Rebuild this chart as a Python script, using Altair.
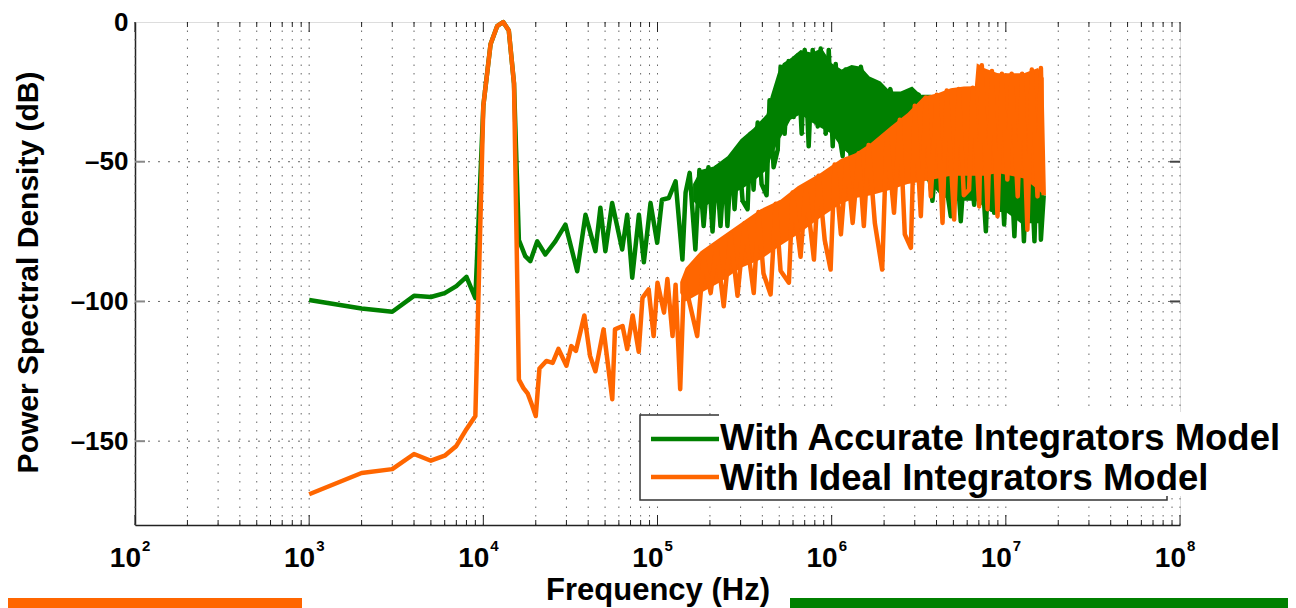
import altair as alt
import pandas as pd

FONT = "Liberation Sans"
GREEN = "#008000"
ORANGE = "#FF6600"

# ---------------- data ----------------
# (frequency Hz, PSD dB) for the "accurate integrators" trace
green_line = [
    (1000, -99.5), (2000, -102.5), (3000, -103.7), (4000, -98), (5000, -98.4), (6000, -97),
    (7000, -94.5), (8000, -91.2), (9000, -98.8), (10000, -30), (11000, -8), (12000, -1.5),
    (13000, 0), (14000, -3), (15000, -22), (16000, -78), (17400, -83.8), (18600, -85.6),
    (20400, -78.5), (22700, -83.2), (25900, -78.5), (29600, -72.5), (34600, -89.2),
    (38600, -69), (44000, -82), (47000, -66.5), (50200, -82), (54900, -64.8), (62700, -81.4),
    (67000, -69), (71600, -91.5), (78200, -69), (83500, -86), (91200, -64.8), (99600, -79),
    (106000, -63.6), (116000, -63), (127000, -57), (139000, -85), (145000, -61),
    (153000, -54), (165000, -81.4), (174000, -53), (184000, -73), (196000, -52), (207000, -75),
    (218000, -52), (230000, -73), (243000, -50), (252000, -73), (266000, -48), (277000, -67),
    (292000, -45), (308000, -64), (329000, -67), (342000, -40), (356000, -60), (376000, -36),
    (396000, -58), (423000, -62), (440000, -28), (464000, -52), (490000, -45.7), (509000, -16),
    (537000, -40), (566000, -14), (605000, -34), (638000, -12), (673000, -40), (700000, -10),
    (738000, -44.5), (778000, -10), (832000, -37.4), (865000, -9.5), (925000, -40),
    (962000, -10), (1014000, -44.5), (1055000, -15), (1096000, -38.6), (1156000, -48),
    (1202000, -17), (1285000, -48), (1470000, -16), (1790000, -45), (2170000, -24),
    (2660000, -48), (3160000, -26), (3790000, -64), (4120000, -40), (4830000, -69.5),
    (5160000, -45), (5510000, -71.3), (5970000, -40), (6580000, -65.4), (7090000, -40),
    (7680000, -74.9), (8100000, -35), (8570000, -68.3), (9120000, -35), (9780000, -72.5),
    (10400000, -35), (11200000, -76.7), (11900000, -35), (12700000, -78.5), (13600000, -35),
    (14600000, -78.5), (15300000, -35), (15900000, -77.9), (16500000, -62),
]
# (frequency, upper edge, lower edge) of the densely filled part of the green trace
green_band = [
    (160000, -58, -64), (177000, -53, -67), (210000, -51.7, -64), (252000, -48, -62),
    (300000, -42, -60), (356000, -38, -57), (423000, -33, -53), (446000, -26.7, -49),
    (490000, -18.3, -43), (525000, -14.8, -40), (581000, -13, -35), (663000, -10, -33),
    (771000, -11, -36), (876000, -9.4, -38), (1000000, -14.8, -40), (1140000, -17, -45),
    (1300000, -15.4, -48), (1470000, -16, -48), (1650000, -19.5, -48), (1910000, -21.3, -48),
    (2170000, -24.9, -50), (2490000, -24.9, -50), (2900000, -23.1, -52), (3250000, -26, -55),
    (3700000, -26, -58), (4230000, -27, -62), (4830000, -30, -64), (6730000, -30, -64),
    (8200000, -30, -68), (10000000, -30, -68), (12200000, -30, -72), (16500000, -30, -72),
]
# (frequency Hz, PSD dB) for the "ideal integrators" trace
orange_line = [
    (1000, -169), (2000, -161.4), (3000, -160), (4000, -154.6), (5000, -157), (6000, -155.2),
    (7000, -151.7), (8000, -145.7), (9000, -141), (10000, -30), (11000, -8), (12000, -1.5),
    (13000, 0), (14000, -3), (15000, -22), (16000, -128), (17000, -131), (18000, -133),
    (19000, -137), (20000, -141), (21000, -124), (23000, -121.3), (25000, -122),
    (27000, -117), (30000, -123), (32000, -116), (34000, -117.7), (38000, -105),
    (41000, -119.5), (44000, -125), (49000, -110), (55000, -135), (57000, -110),
    (63000, -108.8), (67000, -117), (72000, -105), (78000, -118), (82000, -98.7),
    (89000, -95.7), (95000, -112.4), (100000, -93.3), (109000, -104), (114000, -92),
    (122000, -112.4), (127000, -94), (135000, -131.4), (142000, -92), (169000, -112.4),
    (184000, -84), (202000, -97), (218000, -80), (240000, -101.7), (263000, -76),
    (288000, -98), (316000, -72), (357000, -97), (380000, -68), (406000, -90),
    (446000, -97.5), (477000, -65), (509000, -89), (568000, -93.3), (597000, -61),
    (663000, -84), (710000, -59), (791000, -85), (841000, -55), (912000, -78),
    (986000, -88.6), (1040000, -51), (1130000, -76), (1220000, -49), (1320000, -71.9),
    (1430000, -47), (1530000, -73), (1630000, -44), (1770000, -72), (1950000, -88.6),
    (2070000, -40), (2280000, -68.3), (2460000, -35), (2630000, -76), (2850000, -80.8),
    (3000000, -30), (3250000, -69.5), (3470000, -27), (3710000, -62.4), (4010000, -26),
    (4330000, -71.9), (4580000, -24.5), (5050000, -70.7), (5370000, -24), (5740000, -62),
    (6150000, -60), (6460000, -23.5), (7030000, -66), (7280000, -15.5), (7850000, -67),
    (8320000, -17.5), (8960000, -69.5), (9490000, -18.5), (10200000, -56.4),
    (10800000, -18.5), (11700000, -62.4), (12400000, -18.5), (13300000, -74.3),
    (14100000, -17), (15200000, -62.4), (15900000, -16.5), (16500000, -62),
]
orange_band = [
    (135000, -93, -97), (145000, -88, -100), (177000, -82, -97), (230000, -77, -93),
    (300000, -72, -88), (391000, -67, -85), (509000, -63.6, -80), (638000, -58.8, -76),
    (864000, -54, -70), (1130000, -49, -65), (1370000, -47, -63), (1680000, -43.3, -62),
    (2180000, -37.4, -60), (2730000, -32.6, -58), (3380000, -26.7, -57), (4070000, -25.5, -56),
    (4830000, -23.7, -55), (5740000, -23.1, -55), (6640000, -23, -55), (6810000, -14.8, -55),
    (7480000, -16.5, -55), (9000000, -18.3, -54), (10700000, -18.3, -55),
    (12700000, -18.3, -56), (15300000, -16.5, -60), (16500000, -20, -62),
]

series_names = ["With Accurate Integrators Model", "With Ideal Integrators Model"]
decades = [1e2, 1e3, 1e4, 1e5, 1e6, 1e7, 1e8]
decade_exponents = ["2", "3", "4", "5", "6", "7", "8"]
minor_ticks = [m * 10 ** k for k in range(2, 8) for m in range(2, 10)]
y_ticks = [0, -50, -100, -150]
y_grid = [-50, -100, -150]

# ---------------- tables ----------------
g_df = pd.DataFrame(green_line, columns=["f", "db"])
gb_df = pd.DataFrame(green_band, columns=["f", "db", "lo"])
o_df = pd.DataFrame(orange_line, columns=["f", "db"])
ob_df = pd.DataFrame(orange_band, columns=["f", "db", "lo"])
dec_df = pd.DataFrame({"f": decades, "e": decade_exponents})
minor_df = pd.DataFrame({"f": minor_ticks})
vgrid_df = pd.DataFrame({"f": decades + minor_ticks})
hgrid_df = pd.DataFrame({"db": y_grid})
one = pd.DataFrame({"k": [0]})

W, H = 1045, 503
xs = alt.Scale(type="log", domain=[100, 1e8], nice=False)
ys = alt.Scale(domain=[-180, 0], nice=False)

x_axis = alt.Axis(
    labels=False, ticks=False, grid=False, domain=True, domainColor="#222", domainWidth=1.5,
    title="Frequency (Hz)", titleFont=FONT, titleFontSize=31, titleFontWeight="bold",
    titleColor="black", titleX=W / 2, titleY=74, titleAlign="center",
    titleBaseline="alphabetic")
y_axis = alt.Axis(
    values=y_ticks, labelExpr="datum.value == 0 ? '0' : '\u2013' + abs(datum.value)",
    ticks=False, grid=False, domain=True, domainColor="#222", domainWidth=1.5,
    labelFont=FONT, labelFontSize=26, labelFontWeight="bold", labelColor="black",
    labelPadding=7, labelOverlap=False,
    title="Power Spectral Density (dB)", titleFont=FONT, titleFontSize=30,
    titleFontWeight="bold", titleColor="black", titleAngle=270, titleX=-98, titleY=250,
    titleAlign="center", titleBaseline="alphabetic")


def X():
    return alt.X("f:Q", scale=xs, axis=x_axis)


def Y():
    return alt.Y("db:Q", scale=ys, axis=y_axis)


vgrid = alt.Chart(vgrid_df).mark_rule(color="#666", strokeWidth=1, strokeDash=[1.5, 7]).encode(x=X())
hgrid = alt.Chart(hgrid_df).mark_rule(color="#666", strokeWidth=1, strokeDash=[2, 8]).encode(y=Y())

green_area = alt.Chart(gb_df).mark_area(color=GREEN, opacity=1).encode(x=X(), y=Y(), y2="lo:Q")
green = alt.Chart(g_df).mark_line(color=GREEN, strokeWidth=4.5, strokeJoin="round").encode(x=X(), y=Y())
orange_area = alt.Chart(ob_df).mark_area(color=ORANGE, opacity=1).encode(x=X(), y=Y(), y2="lo:Q")
orange = alt.Chart(o_df).mark_line(color=ORANGE, strokeWidth=4.5, strokeJoin="round").encode(x=X(), y=Y())

# inward ticks
tick_col = "#222"
bot_minor = alt.Chart(minor_df).mark_rule(color=tick_col, strokeWidth=1).encode(
    x=X(), y=alt.value(H), y2=alt.value(H - 5))
top_minor = alt.Chart(minor_df).mark_rule(color=tick_col, strokeWidth=1).encode(
    x=X(), y=alt.value(0), y2=alt.value(5))
bot_major = alt.Chart(dec_df).mark_rule(color=tick_col, strokeWidth=1).encode(
    x=X(), y=alt.value(H), y2=alt.value(H - 10))
top_major = alt.Chart(dec_df).mark_rule(color=tick_col, strokeWidth=1).encode(
    x=X(), y=alt.value(0), y2=alt.value(10))
left_ticks = alt.Chart(hgrid_df).mark_rule(color="#888", strokeWidth=2).encode(
    y=Y(), x=alt.value(0), x2=alt.value(10))
right_ticks = alt.Chart(hgrid_df).mark_rule(color="#444", strokeWidth=2).encode(
    y=Y(), x=alt.value(W), x2=alt.value(W - 10))

# x tick labels: "10" with a raised exponent
lab10 = alt.Chart(dec_df).mark_text(
    font=FONT, fontSize=28, fontWeight="bold", color="black", align="right",
    baseline="alphabetic", dx=6).encode(x=X(), y=alt.value(545), text=alt.value("10"))
labexp = alt.Chart(dec_df).mark_text(
    font=FONT, fontSize=15, fontWeight="bold", color="black", align="left",
    baseline="alphabetic", dx=7).encode(x=X(), y=alt.value(529), text="e:N")

# legend (box, white label backgrounds, symbols, labels)
leg_box = alt.Chart(one).mark_rect(fill="white", stroke="#333", strokeWidth=1.5).encode(
    x=alt.value(505), x2=alt.value(1032), y=alt.value(393), y2=alt.value(478))
bg1 = alt.Chart(one).mark_rect(fill="white").encode(
    x=alt.value(584), x2=alt.value(1150), y=alt.value(390), y2=alt.value(433))
bg2 = alt.Chart(one).mark_rect(fill="white").encode(
    x=alt.value(584), x2=alt.value(1082), y=alt.value(433), y2=alt.value(474))
sym1 = alt.Chart(one).mark_rule(color=GREEN, strokeWidth=4.5).encode(
    x=alt.value(516), x2=alt.value(584), y=alt.value(417))
sym2 = alt.Chart(one).mark_rule(color=ORANGE, strokeWidth=4.5).encode(
    x=alt.value(516), x2=alt.value(584), y=alt.value(455))
txt1 = alt.Chart(one).mark_text(font=FONT, fontSize=36.5, fontWeight="bold", color="black",
                                align="left", baseline="alphabetic").encode(
    x=alt.value(585), y=alt.value(428), text=alt.value(series_names[0]))
txt2 = alt.Chart(one).mark_text(font=FONT, fontSize=36.5, fontWeight="bold", color="black",
                                align="left", baseline="alphabetic").encode(
    x=alt.value(585), y=alt.value(468), text=alt.value(series_names[1]))

# coloured strips at the bottom of the figure
bar_o = alt.Chart(one).mark_rect(color=ORANGE).encode(
    x=alt.value(-127), x2=alt.value(167), y=alt.value(576), y2=alt.value(586))
bar_g = alt.Chart(one).mark_rect(color=GREEN).encode(
    x=alt.value(655), x2=alt.value(1153), y=alt.value(576), y2=alt.value(586))

chart = alt.layer(
    vgrid, hgrid, green_area, green, orange_area, orange,
    bot_minor, top_minor, bot_major, top_major, left_ticks, right_ticks,
    lab10, labexp, leg_box, bg1, bg2, sym1, sym2, txt1, txt2, bar_o, bar_g,
).properties(
    width=W, height=H,
    padding={"left": 127, "top": 14, "right": 108, "bottom": 83},
    autosize=alt.AutoSizeParams(type="none"),
).configure_view(stroke="#222", strokeWidth=1.5).configure(background="white")

chart.save("out.html", embed_options={"renderer": "svg", "actions": False})
